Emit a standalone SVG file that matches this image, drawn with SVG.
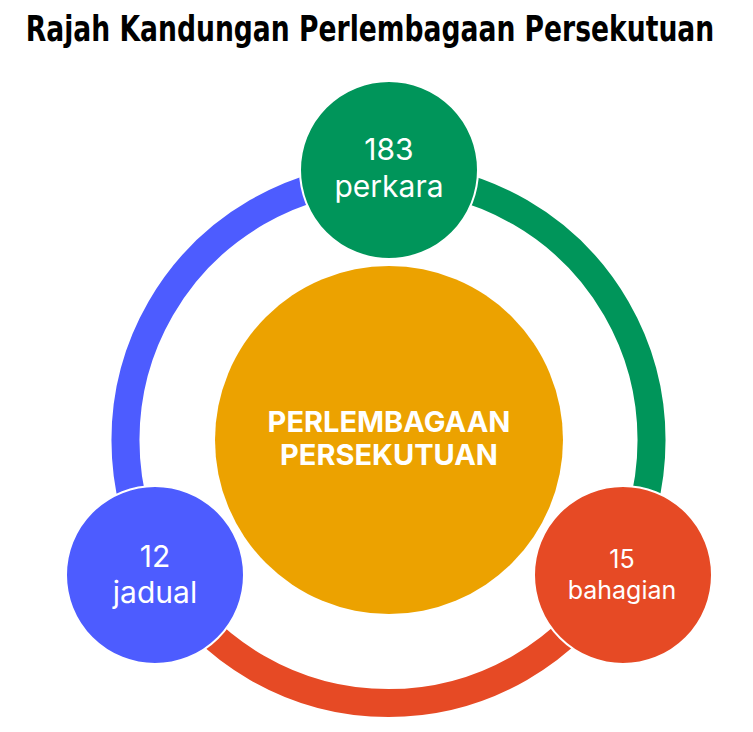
<svg xmlns="http://www.w3.org/2000/svg" width="753" height="732" viewBox="0 0 753 732">
<style>
.title{font-family:"DejaVu Sans",sans-serif;font-weight:bold;font-size:35px;fill:#000;text-anchor:middle}
.arc{fill:none;stroke-width:28}
.node{stroke:#fff;stroke-width:2}
.lbl{font-family:Inter,"Noto Sans",sans-serif;fill:#fff;text-anchor:middle}
.hub{font-family:Inter,"Noto Sans",sans-serif;font-weight:700;font-size:29px;fill:#fff;text-anchor:middle}
</style>
<rect width="753" height="732" fill="#fff"/>
<text class="title" transform="translate(370 41) scale(0.76 1)" x="0" y="0">Rajah Kandungan Perlembagaan Persekutuan</text>
<g id="connectors">
<path class="arc" stroke="#00955A" d="M 388.5 177 A 263 263 0 0 1 616.3 571.5"/>
<path class="arc" stroke="#E64A25" d="M 616.3 571.5 A 263 263 0 0 1 160.7 571.5"/>
<path class="arc" stroke="#4D5CFF" d="M 160.7 571.5 A 263 263 0 0 1 388.5 177"/>
</g>
<g id="hub">
<circle cx="389" cy="440" r="174" fill="#ECA200"/>
<text class="hub" x="389" y="432">PERLEMBAGAAN</text>
<text class="hub" x="389" y="465">PERSEKUTUAN</text>
</g>
<g id="node-perkara">
<circle class="node" cx="389" cy="170" r="89" fill="#00955A"/>
<text class="lbl" x="389" y="160" font-size="30">183</text>
<text class="lbl" x="389" y="197" font-size="30">perkara</text>
</g>
<g id="node-bahagian">
<circle class="node" cx="623" cy="575" r="89" fill="#E64A25"/>
<text class="lbl" x="622" y="568" font-size="25">15</text>
<text class="lbl" x="622" y="599" font-size="25">bahagian</text>
</g>
<g id="node-jadual">
<circle class="node" cx="155" cy="575" r="89" fill="#4D5CFF"/>
<text class="lbl" x="155" y="567" font-size="30">12</text>
<text class="lbl" x="155" y="603" font-size="30">jadual</text>
</g>
</svg>
